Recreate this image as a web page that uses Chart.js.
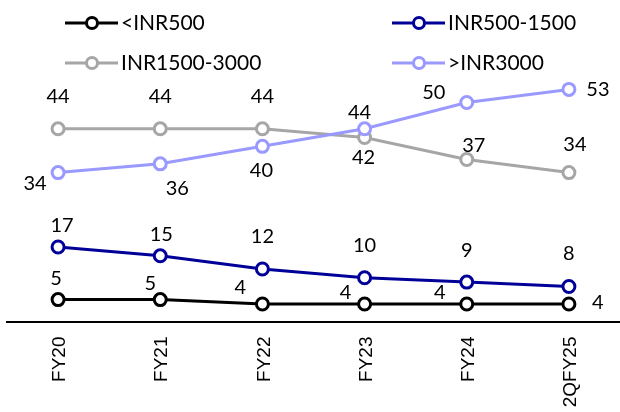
<!DOCTYPE html>
<html>
<head>
<meta charset="utf-8">
<script src="https://cdn.jsdelivr.net/npm/chart.js@4"></script>
<style>
  html, body { margin: 0; padding: 0; background: #fff; }
  #wrap { width: 620px; height: 412px; }
</style>
</head>
<body>
<div id="wrap"><canvas id="c" width="620" height="412"></canvas></div>
<script>
// Price-band share by fiscal period
const categories = ['FY20', 'FY21', 'FY22', 'FY23', 'FY24', '2QFY25'];
const seriesNames = ['<INR500', 'INR500-1500', 'INR1500-3000', '>INR3000'];
const below500 = [5, 5, 4, 4, 4, 4];
const inr500to1500 = [17, 15, 12, 10, 9, 8];
const inr1500to3000 = [44, 44, 44, 42, 37, 34];
const above3000 = [34, 36, 40, 44, 50, 53];

const colors = ['#000000', '#000099', '#A6A6A6', '#9999FF'];
const FONT = 'Lato, "Open Sans", sans-serif';

// value-label placement relative to each point (dx, dy in px)
const labelOffsets = [
  [[-2, -21], [-10, -16], [-22, -16], [-19, -11], [-27, -11], [29, -1]],
  [[4, -22], [1, -21], [0, -32], [0, -32], [0, -32], [0, -33]],
  [[0, -32], [0, -32], [0, -32], [-1, 20], [7, -14], [6, -28]],
  [[-23, 11], [17, 25], [-1, 24], [-5, -16], [-33, -10], [29, 0]]
];

// legend layout: two columns, two rows
const legendSlots = [
  { x: 65, y: 23 }, { x: 392, y: 23 },
  { x: 65, y: 63 }, { x: 392, y: 63 }
];

const valueLabels = {
  id: 'valueLabels',
  afterDatasetsDraw(chart) {
    const ctx = chart.ctx;
    ctx.save();
    ctx.font = '20px ' + FONT;
    ctx.fillStyle = '#000';
    ctx.textAlign = 'center';
    ctx.textBaseline = 'middle';
    chart.data.datasets.forEach((ds, di) => {
      const meta = chart.getDatasetMeta(di);
      meta.data.forEach((pt, i) => {
        const off = labelOffsets[di][i];
        ctx.fillText(String(ds.data[i]), pt.x + off[0], pt.y + off[1]);
      });
    });
    ctx.restore();
  }
};

const customLegend = {
  id: 'customLegend',
  afterDraw(chart) {
    const ctx = chart.ctx;
    ctx.save();
    chart.data.datasets.forEach((ds, di) => {
      const s = legendSlots[di];
      ctx.strokeStyle = ds.borderColor;
      ctx.lineWidth = 3;
      ctx.beginPath();
      ctx.moveTo(s.x, s.y);
      ctx.lineTo(s.x + 53, s.y);
      ctx.stroke();
      ctx.beginPath();
      ctx.arc(s.x + 27, s.y, 5.5, 0, Math.PI * 2);
      ctx.fillStyle = '#fff';
      ctx.fill();
      ctx.stroke();
      ctx.fillStyle = '#000';
      ctx.font = '21px ' + FONT;
      ctx.textAlign = 'left';
      ctx.textBaseline = 'middle';
      ctx.fillText(ds.label, s.x + 56, s.y);
    });
    ctx.restore();
  }
};

function series(label, data, color, order) {
  return {
    label, data, order,
    borderColor: color,
    backgroundColor: '#fff',
    borderWidth: 3,
    pointRadius: 6,
    pointBorderWidth: 3,
    pointBackgroundColor: '#fff',
    pointBorderColor: color,
    tension: 0,
    clip: false
  };
}

new Chart(document.getElementById('c'), {
  type: 'line',
  data: {
    labels: categories,
    datasets: [
      series(seriesNames[0], below500, colors[0], 1),
      series(seriesNames[1], inr500to1500, colors[1], 2),
      series(seriesNames[2], inr1500to3000, colors[2], 4),
      series(seriesNames[3], above3000, colors[3], 3)
    ]
  },
  options: {
    responsive: false,
    animation: false,
    devicePixelRatio: 1,
    layout: { autoPadding: false, padding: { top: 67.5, left: 7, right: 0, bottom: 0 } },
    plugins: { legend: { display: false }, tooltip: { enabled: false } },
    scales: {
      x: {
        offset: true,
        grid: { display: true, drawOnChartArea: false, drawTicks: false, color: 'rgba(0,0,0,0)' },
        border: { display: true, color: '#000', width: 2 },
        ticks: {
          color: '#000',
          font: { family: '"Liberation Sans", Arial, sans-serif', size: 19 },
          minRotation: 90,
          maxRotation: 90,
          padding: 15,
          labelOffset: 2,
          autoSkip: false
        },
        afterFit(scale) {
          scale.height = 90.5;
          scale.paddingLeft = 0;
          scale.paddingRight = 0;
        }
      },
      y: { display: false, min: 0, max: 58 }
    }
  },
  plugins: [valueLabels, customLegend]
});
</script>
</body>
</html>
